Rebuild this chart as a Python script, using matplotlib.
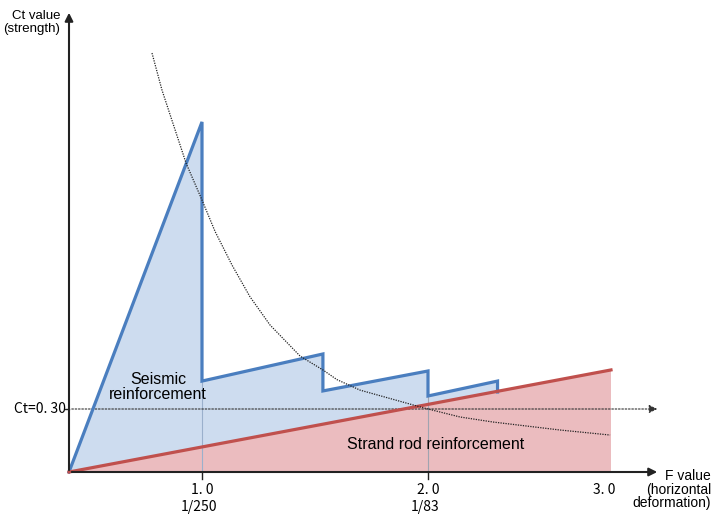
import numpy as np
import matplotlib
matplotlib.use("Agg")
from matplotlib import pyplot as plt

# --- data (F value on x, Ct value on y) ---
seismic_f = [0.0, 1.0, 1.0, 1.535, 1.535, 2.0, 2.0, 2.38, 2.38]
seismic_ct = [0.0, 1.667, 0.433, 0.562, 0.386, 0.481, 0.362, 0.433, 0.381]

strand_f = [0.0, 3.0]
strand_ct = [0.0, 0.486]

curve_f = [0.624, 0.699, 0.880, 1.0, 1.058, 1.133, 1.212, 1.301, 1.434, 1.535,
           1.597, 1.699, 1.965, 2.0, 2.175, 2.355, 2.721, 2.995]
curve_ct = [1.995, 1.819, 1.471, 1.295, 1.145, 0.985, 0.835, 0.700, 0.552, 0.486,
            0.440, 0.390, 0.310, 0.300, 0.262, 0.238, 0.200, 0.176]

ct_ref = 0.30
tick_f = [1.0, 2.0, 3.0]
tick_top = ["1. 0", "2. 0", "3. 0"]
tick_bottom = ["1/250", "1/83", ""]

# drawn F axis is not uniform: 0-1 is short, 1-2 long, 2-3 shorter
F_ANCHOR = [-1, 0, 1, 2, 3, 4]
PX_ANCHOR = [-133, 0, 133, 359, 542, 725]


def forward(f):
    return np.interp(f, F_ANCHOR, PX_ANCHOR)


def inverse(p):
    return np.interp(p, PX_ANCHOR, F_ANCHOR)


fig = plt.figure(figsize=(7.12, 5.24), dpi=100)
ax = fig.add_axes([0, 0, 1, 1])
ax.set_xscale("function", functions=(forward, inverse))
ax.set_xlim(inverse(-69), inverse(643))
ax.set_ylim(-52 / 210, 472 / 210)
ax.axis("off")

blue = "#4a7ebf"
red = "#c0504d"

# fills
ax.fill(seismic_f, seismic_ct, color="#cddcef", lw=0, zorder=1)
ax.fill(strand_f + [strand_f[-1]], strand_ct + [0.0], color="#ebbcbf", lw=0, zorder=2)

# guide lines at 1.0 and 2.0
ax.plot([1.0, 1.0], [0, seismic_ct[2]], color="#9ab0cc", lw=0.8, zorder=3)
ax.plot([2.0, 2.0], [0, seismic_ct[6]], color="#a0a4b0", lw=0.8, zorder=3)

# Ct=0.30 reference line with arrow
ax.annotate("", xy=(inverse(591), ct_ref), xytext=(0, ct_ref),
            arrowprops=dict(arrowstyle="-|>", color="#333333", lw=0.8,
                            linestyle=(0, (1.5, 1.5)), mutation_scale=12),
            zorder=4)

# main lines
ax.plot(seismic_f, seismic_ct, color=blue, lw=2.3, solid_joinstyle="miter", zorder=5)
ax.plot(strand_f, strand_ct, color=red, lw=2.3, zorder=6)

# dotted curve
ax.plot(curve_f, curve_ct, color="#222222", lw=0.9, ls=(0, (1, 1)), zorder=7)

# axes with arrows
ax.annotate("", xy=(0, 2.2), xytext=(0, -0.004),
            arrowprops=dict(arrowstyle="-|>", color="#222222", lw=1.5, mutation_scale=12),
            zorder=8)
ax.annotate("", xy=(inverse(591), 0), xytext=(0, 0),
            arrowprops=dict(arrowstyle="-|>", color="#222222", lw=1.5, mutation_scale=12),
            zorder=8)
for f in tick_f[:2]:
    ax.plot([f, f], [0, -0.035], color="#222222", lw=1.0, zorder=8)
ax.plot([inverse(-4), 0], [ct_ref, ct_ref], color="#222222", lw=1.0, zorder=8)

jp = ["Noto Sans CJK JP", "DejaVu Sans"]
for f, top, bot in zip(tick_f, tick_top, tick_bottom):
    dx = -7 if f == 3.0 else 0
    ax.annotate(top, (f, 0), xytext=(dx, -18), textcoords="offset pixels",
                ha="center", va="center", fontsize=10, family=jp)
    if bot:
        ax.annotate(bot, (f, 0), xytext=(-3, -35), textcoords="offset pixels",
                    ha="center", va="center", fontsize=10, family=jp)

ax.annotate("Ct=0. 30", (0, ct_ref), xytext=(-3, 0), textcoords="offset pixels",
            ha="right", va="center", fontsize=10, family=jp)

sans = "Liberation Sans"
ax.text(inverse(-9), 2.14, "Ct value\n(strength)", ha="right", va="center",
        fontsize=9.5, family=sans, linespacing=1.1)
ax.text(inverse(642), -0.085, "F value\n(horizontal\ndeformation)", ha="right",
        va="center", fontsize=10, family=sans, linespacing=0.95)
ax.text(inverse(89), 0.406, "Seismic\nreinforcement", ha="center", va="center",
        fontsize=11.5, family=sans, linespacing=1.0)
ax.text(inverse(367), 0.133, "Strand rod reinforcement", ha="center", va="center",
        fontsize=11.5, family=sans)

fig.savefig("out.png", dpi=100)
